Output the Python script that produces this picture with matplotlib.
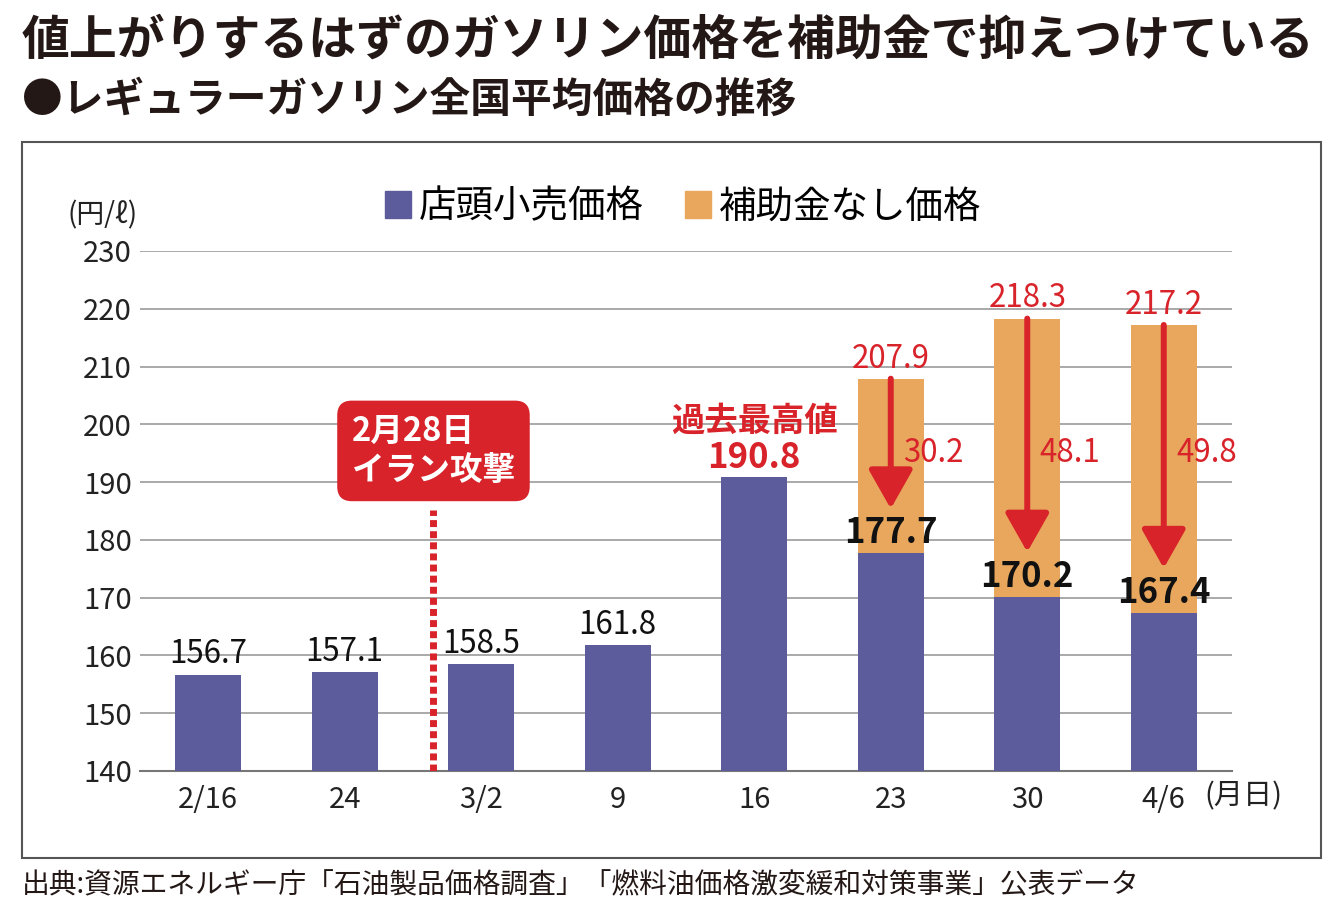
import matplotlib
matplotlib.use("Agg")
import matplotlib.pyplot as plt
from matplotlib.patches import Rectangle, Patch
import numpy as np

plt.rcParams['font.family'] = ['Noto Sans CJK JP', 'DejaVu Sans']

# ---- data ----
dates = ["2/16", "24", "3/2", "9", "16", "23", "30", "4/6"]
retail = [156.7, 157.1, 158.5, 161.8, 190.8, 177.7, 170.2, 167.4]
no_subsidy = [None, None, None, None, None, 207.9, 218.3, 217.2]
subsidy = [None, None, None, None, None, 30.2, 48.1, 49.8]
yticks = [140, 150, 160, 170, 180, 190, 200, 210, 220, 230]
attack_pos = 1.65          # 2/28 between 2/24 and 3/2
attack_label = "2月28日\nイラン攻撃"
record_label = "過去最高値"

PURPLE = "#5c5b9c"
ORANGE = "#e8a75c"
RED = "#d8232a"
GRID = "#a3a3a3"

fig = plt.figure(figsize=(13.4, 9.14), dpi=100)
ax = fig.add_axes([140/1340, 1-771/914, (1232-140)/1340, (771-251)/914])

x = np.arange(len(dates))
w = 0.485

# orange (price without subsidy) stacked above retail
for i, (r, ns) in enumerate(zip(retail, no_subsidy)):
    if ns is not None:
        ax.bar(i, ns - r, bottom=r, width=w, color=ORANGE, zorder=2)
ax.bar(x, np.array(retail) - 140, bottom=140, width=w, color=PURPLE, zorder=3)

ax.set_xlim(-0.5, 7.5)
ax.set_ylim(140, 230)
ax.set_yticks(yticks)
ax.set_yticklabels([str(t) for t in yticks], fontsize=21, color="#222222")
ax.set_xticks(x)
ax.set_xticklabels(dates, fontsize=21, color="#222222")
ax.tick_params(axis='both', length=0)
ax.tick_params(axis='y', pad=6)
ax.tick_params(axis='x', pad=10)
for s in ['top', 'right', 'left']:
    ax.spines[s].set_visible(False)
ax.spines['bottom'].set_color("#777777")
ax.spines['bottom'].set_linewidth(1.5)
ax.yaxis.grid(True, color=GRID, linewidth=1.3)
ax.set_axisbelow(True)

# value labels
for i, r in enumerate(retail):
    if no_subsidy[i] is not None:
        ax.annotate(f"{r:.1f}", xy=(i, r), xytext=(0, 2), textcoords='offset points',
                    ha='center', va='bottom', fontsize=25, fontweight='bold',
                    color="#111111", zorder=6)
    elif r == max(retail):
        ax.annotate(f"{r:.1f}", xy=(i, r), xytext=(0, 2), textcoords='offset points',
                    ha='center', va='bottom', fontsize=25, fontweight='bold',
                    color=RED, zorder=6)
        ax.annotate(record_label, xy=(i, r), xytext=(0, 29), textcoords='offset points',
                    ha='center', va='bottom', fontsize=24, fontweight='bold',
                    color=RED, zorder=6)
    else:
        ax.annotate(f"{r:.1f}", xy=(i, r), xytext=(0, 3), textcoords='offset points',
                    ha='center', va='bottom', fontsize=22.5, color="#111111", zorder=6)

# no-subsidy labels, arrows, subsidy amounts
for i, (r, ns, sb) in enumerate(zip(retail, no_subsidy, subsidy)):
    if ns is None:
        continue
    ax.annotate(f"{ns:.1f}", xy=(i, ns), xytext=(0, 3), textcoords='offset points',
                ha='center', va='bottom', fontsize=22.5, color=RED, zorder=6)
    ax.annotate("", xy=(i, r + 7.7), xytext=(i, ns),
                arrowprops=dict(arrowstyle='-|>,head_length=1.2,head_width=0.68',
                                mutation_scale=20, lw=4.3, color=RED,
                                shrinkA=0, shrinkB=0), zorder=5)
    ax.annotate(f"{sb:.1f}", xy=(i, 195), xytext=(9, 0), textcoords='offset points',
                ha='left', va='center', fontsize=22.5, color=RED, zorder=6)

# attack marker
ax.plot([attack_pos, attack_pos], [140, 185.2], color=RED, lw=5,
        linestyle=(0, (1.0, 0.6)), solid_capstyle='butt', dash_capstyle='butt', zorder=4)
ax.text(attack_pos, 195.4, attack_label, ha='center', va='center', multialignment='left',
        fontsize=23.5, fontweight='bold', color='white', linespacing=1.2, zorder=6,
        bbox=dict(boxstyle='round,pad=0.45,rounding_size=0.45', fc=RED, ec='none'))

# month-day unit after last tick
ax.annotate("(月日)", xy=(7, 0), xycoords=('data', 'axes fraction'),
            xytext=(29, -7.5), textcoords='offset points', ha='left', va='top',
            fontsize=21, color="#222222")

# y unit
fig.text(103/1340, 1-215/914, "(円/ℓ)", ha='center', va='center', fontsize=20,
         color="#222222")

# legend
handles = [Patch(color=PURPLE, label="店頭小売価格"), Patch(color=ORANGE, label="補助金なし価格")]
fig.legend(handles=handles, loc='center', bbox_to_anchor=(683/1340, 1-207/914), ncol=2,
           frameon=False, fontsize=27, handlelength=0.7, handleheight=0.7,
           handletextpad=0.2, columnspacing=1.1)

# frame
fig.patches.append(Rectangle((22/1340, 1-858/914), (1321-22)/1340, (858-142)/914,
                             transform=fig.transFigure, fill=False, ec="#555555", lw=1.5))

# titles
fig.text(22/1340, 1-40/914, "値上がりするはずのガソリン価格を補助金で抑えつけている",
         ha='left', va='center', fontsize=34.5, fontweight='bold', color="#231815")
fig.text(22/1340, 1-100/914, "●レギュラーガソリン全国平均価格の推移",
         ha='left', va='center', fontsize=29.3, fontweight='bold', color="#231815")
fig.text(22/1340, 1-885/914,
         "出典:資源エネルギー庁「石油製品価格調査」「燃料油価格激変緩和対策事業」公表データ",
         ha='left', va='center', fontsize=20, color="#231815")

fig.savefig("out.png", dpi=100)
